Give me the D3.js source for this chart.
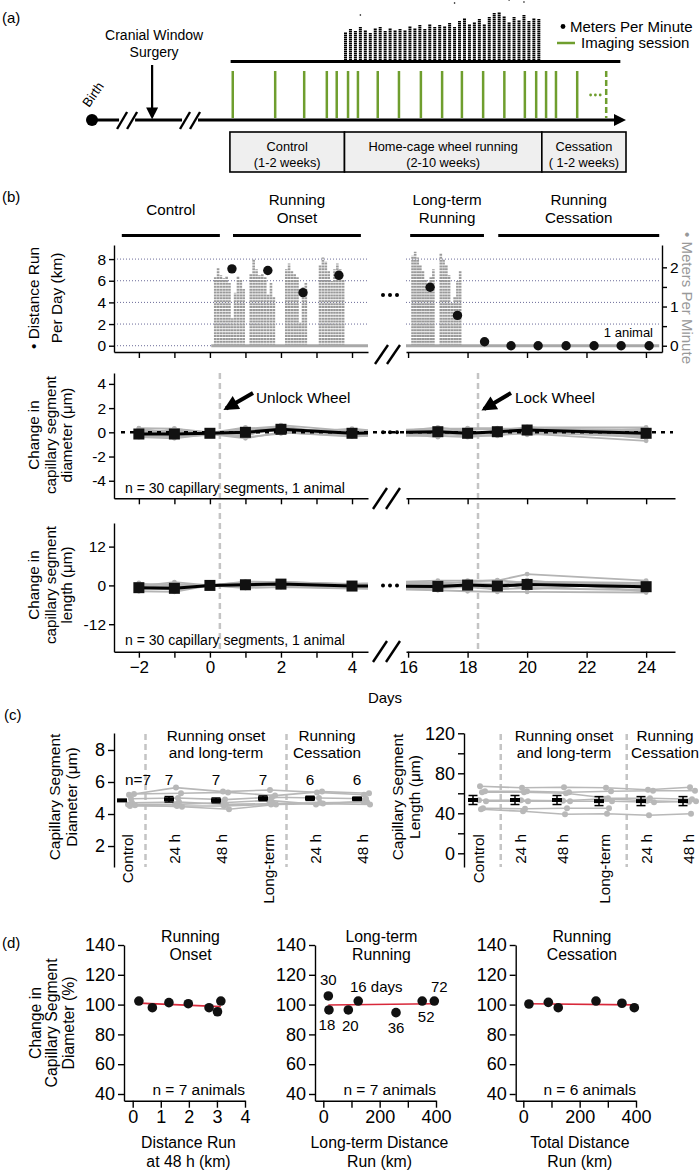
<!DOCTYPE html>
<html>
<head>
<meta charset="utf-8">
<script src="https://cdn.jsdelivr.net/npm/d3@7"></script>
<style>
  body { margin: 0; background: #fff; }
  svg { font-family: "Liberation Sans", Arial, Helvetica, sans-serif; }
</style>
</head>
<body>
<div id="app"></div>
<script>
// ---------- (a) timeline data ----------
const sessionDays = [0.4, 6.4, 10.5, 13.7, 15.1, 16.7, 18.1, 20.9, 23.9, 27, 30, 32.8, 35.8, 38.8, 41.7, 43.3, 44.7, 46.1, 49.1];
const nextSessionDay = 53.2;
const phaseNames = ['Control', 'Home-cage wheel running', 'Cessation'];
const phaseSpans = ['(1-2 weeks)', '(2-10 weeks)', '( 1-2 weeks)'];
const phaseStarts = [0, 16.2, 44.1, 56];
const birthDay = -19.5, surgeryDay = -11, breakDays = [-14.4, -5.5];
// nightly peak meters per minute during wheel access (schematic strip)
const wheelPeaks = [28, 31, 29, 33, 30, 27, 32, 33, 29, 32, 30, 31, 30, 34, 32, 35, 31, 36, 33, 35,
  34, 37, 33, 39, 42, 36, 38, 41, 36, 43, 47, 48, 44, 38, 43, 40, 45, 39, 42, 41];
const wheelStrayIdx = [3, 22, 33, 36];
const wheelStrayVal = [45, 57, 60, 58];

// ---------- (b) data ----------
const periodLabels = ['Control', 'Running\nOnset', 'Long-term\nRunning', 'Running\nCessation'];
const periodStart = [-2.48, 0.65, 16.07, 19.03];
const periodEnd = [0.28, 4.25, 18.55, 24.44];

const nightStart = [0.15, 1.15, 2.15, 3.1, 16.15, 17.1];
const nightEnd = [0.95, 1.8, 2.7, 3.75, 16.85, 17.75];
const nightPeaks = [
  [1.75, 1.98, 1.8, 1.72, 1.78, 1.6, 0.7, 1.35, 1.78, 1.7, 1.45],
  [1.85, 2.2, 1.95, 1.8, 1.85, 1.75, 1.3, 1.6, 1.25],
  [1.95, 2.1, 1.9, 1.85, 1.75, 0.6, 1.5, 1.6],
  [2.05, 2.25, 2.15, 1.9, 1.65, 1.95, 2.1, 1.95, 1.7],
  [2.3, 2.4, 2.25, 2.05, 1.9, 1.7, 1.45, 1.75, 1.95],
  [2.35, 2.2, 2.05, 1.8, 1.1, 1.25, 1.65, 1.9]
];
const distDays = [0.62, 1.63, 2.62, 3.63, 16.74, 17.66, 18.57, 19.46, 20.37, 21.31, 22.25, 23.16, 24.1];
const distKm = [7.1, 6.95, 4.9, 6.5, 5.4, 2.8, 0.37, 0, 0, 0, 0, 0, 0];

const unlockDay = 0.28, lockDay = 18.35;
const timeDays = [-2, -1, 0, 1, 2, 4, 17, 18, 19, 20, 24];
const diamTraces = [
  [0.35, 0.3, 0, -0.3, 0.6, 0.1, 0.3, 0.3, 0.2, 0.4, 0.4],
  [-0.4, -0.5, -0.15, -0.5, 0.0, -0.3, -0.3, -0.4, -0.2, -0.1, -0.7],
  [0.2, 0.1, -0.05, 0.2, 0.4, -0.2, 0.1, 0.2, 0.3, 0.3, 0.2],
  [-0.3, -0.4, -0.2, 0.1, 0.1, 0.0, -0.2, -0.1, 0.1, 0.0, -0.4],
  [0.0, 0.2, 0, -0.2, 0.3, -0.1, 0.2, 0.0, -0.1, 0.3, 0.1],
  [-0.2, -0.2, -0.1, 0.0, 0.2, 0.2, -0.1, -0.3, 0.0, 0.1, -0.2],
  [0.3, -0.1, -0.1, 0.3, 0.5, -0.3, 0.4, 0.1, -0.2, 0.45, -0.5],
  [-0.35, 0.3, -0.1, -0.4, -0.1, 0.3, -0.4, 0.35, 0.35, -0.2, 0.3],
  [0.1, -0.3, -0.05, 0.4, 0.0, -0.35, 0.0, -0.25, -0.3, 0.2, -0.3]
];
const diamMean = [-0.14, -0.14, -0.08, 0, 0.25, -0.08, 0.05, -0.08, 0.05, 0.19, -0.08];
const lenTraces = [
  [-0.2, 1.0, 0, 1.2, 1.0, 0.5, 1.5, 1.5, 1.5, 3.5, 1.5],
  [-1.8, -2.0, 0, -0.8, -0.5, -1.0, -1.5, -1.8, -2.0, -2.0, -2.2],
  [0.5, 0.2, 0, 0.5, 1.2, 0.2, 1.0, 0.8, 0.5, 1.2, 0.8],
  [-1.0, -1.2, 0, -0.3, 0.2, -0.6, -0.8, -0.5, -1.2, -0.8, -1.5],
  [0.2, -0.5, 0, 0.8, 0.6, 0.0, 0.3, 1.2, 1.6, 0.8, 0.3],
  [-0.5, -0.8, 0, 0.2, 0.5, -0.3, -0.2, 0.3, -0.5, 0.5, -0.8],
  [-1.4, 0.4, 0, -0.6, 0.9, 0.4, 0.8, -0.9, 0.9, -1.2, 1.0],
  [0.8, -1.5, 0, 1.0, -0.3, -0.8, -1.0, 0.6, -1.6, 1.6, -1.9]
];
const lenMean = [-0.7, -0.9, 0, 0.2, 0.4, -0.2, -0.3, 0.1, -0.2, 0.3, -0.4];

// ---------- (c) data ----------
const cCategories = ['Control', '24 h', '48 h', 'Long-term', '24 h', '48 h'];
const cCounts = ['n=7', '7', '7', '7', '6', '6'];
const diamByAnimal = [
  [5.2, 5.65, 5.4, 5.5, 5.35, 5.2],
  [5.25, 5.3, 5.35, 5.15, 5.4, 5.3],
  [4.95, 5.0, 4.9, 5.05, 5.0, 4.95],
  [4.6, 4.6, 4.7, 4.85, 4.6, 4.8],
  [4.55, 4.45, 4.3, 4.6, 4.65, 4.6],
  [4.7, 4.75, 4.6, 4.65, 4.7, 4.75],
  [4.5, 4.5, 4.5, 4.6, null, null]
];
const diamMeanC = [4.85, 4.92, 4.85, 4.98, 4.98, 4.95];
const diamSemC = [0.05, 0.17, 0.15, 0.15, 0.13, 0.1];
const lenByAnimal = [
  [67, 65.5, 66, 65.5, 63.5, 66],
  [62, 62, 61, 62, 62.5, 62.5],
  [61, 61, 60, 55, 55, 54],
  [53, 53, 52.5, 54.5, 52.5, 51.5],
  [52, 52, 52, 52, 51, 52],
  [45, 44.5, 45, 45, null, null],
  [44, 42, 39, 39.5, 38, 39.5]
];
const lenMeanC = [53.3, 53.3, 53.3, 52.2, 52.2, 52.2];
const lenSemC = [4.5, 4.5, 4.5, 4.5, 4.5, 4.5];

// ---------- (d) data ----------
const onsetKm = [0.22, 0.7, 1.29, 1.98, 2.72, 3.02, 3.14];
const onsetPct = [102.4, 97.9, 101.3, 100.6, 97.9, 95.2, 102.4];
const longKm = [17.8, 20, 88.8, 124, 258, 351, 394];
const longPct = [105.8, 96.4, 96.4, 102.4, 94.6, 102.4, 102.4];
const longDays = ['30', '18', '20', '16 days', '36', '52', '72'];
const cessKm = [20, 88.8, 124, 258, 350, 394];
const cessPct = [100.4, 101.5, 97.9, 102.4, 100.9, 97.9];

// ======================================================
const W = 700, H = 1170;
const svg = d3.select('#app').append('svg').attr('width', W).attr('height', H);
const defs = svg.append('defs');

function arrowMarker(id, w, h) {
  defs.append('marker').attr('id', id)
    .attr('viewBox', '0 0 10 10').attr('refX', 8).attr('refY', 5)
    .attr('markerUnits', 'userSpaceOnUse')
    .attr('markerWidth', w).attr('markerHeight', h)
    .attr('orient', 'auto')
    .append('path').attr('d', 'M0,0L10,5L0,10z').attr('fill', '#000');
}
arrowMarker('headS', 12, 12);
arrowMarker('headL', 16, 15);

function lines(g, x, y, str, size, anchor, lh) {
  const t = g.append('text').attr('x', x).attr('y', y)
    .attr('font-size', size).attr('text-anchor', anchor || 'middle');
  str.split('\n').forEach((s, i) => t.append('tspan').attr('x', x).attr('dy', i ? (lh || 1.15) + 'em' : 0).text(s));
  return t;
}
function rotLabel(g, cx, cy, str, size, lh, angle) {
  const t = g.append('text').attr('transform', `translate(${cx},${cy}) rotate(${angle || -90})`)
    .attr('font-size', size).attr('text-anchor', 'middle');
  str.split('\n').forEach((s, i) => t.append('tspan').attr('x', 0).attr('dy', i ? lh + 'em' : '0.35em').text(s));
  return t;
}
function styleAxis(g, fs) {
  g.attr('font-family', null).attr('font-size', fs);
  g.selectAll('path, line').attr('stroke', '#000').attr('stroke-width', 1.4);
  g.selectAll('text').attr('fill', '#000');
  return g;
}
function slashes(g, x0, yb, yt, w, gap) {
  [0, gap].forEach(o => g.append('line')
    .attr('x1', x0 + o).attr('y1', yb).attr('x2', x0 + o + w).attr('y2', yt)
    .attr('stroke', '#000').attr('stroke-width', 2.4));
}
function ellipsis(g, cx, cy) {
  [-7, 0, 7].forEach(o => g.append('circle').attr('cx', cx + o).attr('cy', cy).attr('r', 2).attr('fill', '#000'));
}

// ======================= (a) ===========================
const ga = svg.append('g');
ga.append('text').attr('x', 2).attr('y', 23).attr('font-size', 15).text('(a)');
const tl = d3.scaleLinear().domain([-19.5, 56]).range([92, 626]);

// running strip (meters per minute)
const yWheel = d3.scaleLinear().domain([0, 60]).range([60, 0]);
const wheelX = d3.scaleLinear().domain([0, wheelPeaks.length - 1]).range([tl(phaseStarts[1]) + 1, tl(phaseStarts[2]) - 3]);
ga.append('g').selectAll('line').data(wheelPeaks).enter().append('line')
  .attr('x1', (d, i) => wheelX(i)).attr('x2', (d, i) => wheelX(i))
  .attr('y1', yWheel(0)).attr('y2', d => yWheel(d))
  .attr('stroke', '#000').attr('stroke-width', 3).attr('stroke-dasharray', '1.4,0.6');
ga.append('g').selectAll('circle').data(wheelStrayVal).enter().append('circle')
  .attr('cx', (d, i) => wheelX(wheelStrayIdx[i])).attr('cy', d => yWheel(d)).attr('r', 0.8).attr('fill', '#000');

// top bar above sessions
ga.append('line').attr('x1', tl(0.1)).attr('x2', tl(55.2)).attr('y1', 61.5).attr('y2', 61.5)
  .attr('stroke', '#000').attr('stroke-width', 3);

// imaging sessions
ga.append('g').selectAll('line').data(sessionDays).enter().append('line')
  .attr('x1', d => tl(d)).attr('x2', d => tl(d)).attr('y1', 71).attr('y2', 118)
  .attr('stroke', '#6f9e2e').attr('stroke-width', 2.5);
ga.append('line').attr('x1', tl(nextSessionDay)).attr('x2', tl(nextSessionDay)).attr('y1', 71).attr('y2', 118)
  .attr('stroke', '#6f9e2e').attr('stroke-width', 2.5).attr('stroke-dasharray', '6,3');
[-2.4, -1.2, 0].forEach(o => ga.append('circle').attr('cx', tl(nextSessionDay) + o * 4 - 6).attr('cy', 95).attr('r', 1.4).attr('fill', '#6f9e2e'));

// timeline
ga.append('line').attr('x1', tl(birthDay)).attr('x2', tl(56) - 8).attr('y1', 120).attr('y2', 120)
  .attr('stroke', '#000').attr('stroke-width', 3);
ga.append('path').attr('d', `M${tl(56)},120 L${tl(56) - 12},114 L${tl(56) - 12},126 Z`).attr('fill', '#000');
ga.append('circle').attr('cx', tl(birthDay)).attr('cy', 120).attr('r', 6).attr('fill', '#000');
ga.append('text').attr('transform', `translate(${tl(birthDay) - 3},${108}) rotate(-55)`)
  .attr('font-size', 13).text('Birth');
breakDays.forEach(d => {
  ga.append('rect').attr('x', tl(d) - 9).attr('y', 116).attr('width', 16).attr('height', 8).attr('fill', '#fff');
  slashes(ga, tl(d) - 11, 129, 112, 10, 10);
});
ga.append('line').attr('x1', tl(surgeryDay)).attr('x2', tl(surgeryDay)).attr('y1', 65).attr('y2', 117)
  .attr('stroke', '#000').attr('stroke-width', 2.2).attr('marker-end', 'url(#headS)');
lines(ga, tl(surgeryDay) + 2, 40, 'Cranial Window\nSurgery', 14, 'middle', 1.2);

// phase boxes
phaseNames.forEach((p, i) => {
  const x0 = tl(phaseStarts[i]), x1 = tl(phaseStarts[i + 1]);
  ga.append('rect').attr('x', x0).attr('y', 132).attr('width', x1 - x0).attr('height', 40)
    .attr('fill', '#efefef').attr('stroke', '#000').attr('stroke-width', 1.6);
  lines(ga, (x0 + x1) / 2, 150.5, p + '\n' + phaseSpans[i], 12.8, 'middle', 1.25);
});

// legend
ga.append('circle').attr('cx', 563).attr('cy', 26.5).attr('r', 2.4).attr('fill', '#000');
ga.append('text').attr('x', 570).attr('y', 31.5).attr('font-size', 15).text('Meters Per Minute');
ga.append('line').attr('x1', 557).attr('x2', 575).attr('y1', 43).attr('y2', 43).attr('stroke', '#6f9e2e').attr('stroke-width', 2.5);
ga.append('text').attr('x', 581).attr('y', 48).attr('font-size', 15).text('Imaging session');

// ======================= (b) ===========================
const gb = svg.append('g');
gb.append('text').attr('x', 2).attr('y', 202).attr('font-size', 15).text('(b)');
const xB = d3.scaleLinear().domain([-2.7, 4.45, 15.93, 24.97]).range([114, 368, 406, 675]);
const xL = d3.scaleLinear().domain([-2.7, 4.45]).range([114, 368]);
const xR = d3.scaleLinear().domain([15.93, 24.97]).range([406, 675]);
const xRtop = d3.scaleLinear().domain([15.93, 24.54]).range([406, 662]);

defs.append('clipPath').attr('id', 'clipL').append('rect').attr('x', 100).attr('y', 0).attr('width', 268).attr('height', H);
defs.append('clipPath').attr('id', 'clipR').append('rect').attr('x', 406).attr('y', 0).attr('width', 280).attr('height', H);

// period bars
periodLabels.forEach((p, i) => {
  gb.append('line').attr('x1', xB(periodStart[i])).attr('x2', xB(periodEnd[i])).attr('y1', 235.5).attr('y2', 235.5)
    .attr('stroke', '#000').attr('stroke-width', 3);
  const cx = (xB(periodStart[i]) + xB(periodEnd[i])) / 2;
  if (p.indexOf('\n') < 0) lines(gb, cx, 215, p, 15.2);
  else lines(gb, cx, 205, p, 15.2, 'middle', 1.18);
});

// top panel scales
const yKm = d3.scaleLinear().domain([-0.58, 9.3]).range([352, 245]);
const yMpm = d3.scaleLinear().domain([-0.16, 2.57]).range([352, 245]);

// dotted gridlines
[0, 2, 4, 6, 8].forEach(v => {
  [[117, 368], [406, 659]].forEach(r => gb.append('line')
    .attr('x1', r[0]).attr('x2', r[1]).attr('y1', yKm(v)).attr('y2', yKm(v))
    .attr('stroke', '#6b6b99').attr('stroke-width', 1).attr('stroke-dasharray', '1,2'));
});

// nightly running (meters per minute)
const gNight = gb.append('g');
nightPeaks.forEach((pk, n) => {
  const xs = d3.scaleLinear().domain([0, pk.length - 1]).range([xB(nightStart[n]), xB(nightEnd[n])]);
  gNight.selectAll(null).data(pk).enter().append('line')
    .attr('x1', (d, i) => xs(i)).attr('x2', (d, i) => xs(i))
    .attr('y1', yMpm(0)).attr('y2', d => yMpm(d))
    .attr('stroke', '#9a9a9a').attr('stroke-width', 2.6).attr('stroke-dasharray', '2,0.9');
});
gb.append('line').attr('x1', xB(nightStart[0]) - 4).attr('x2', xB(4.45)).attr('y1', yMpm(0)).attr('y2', yMpm(0))
  .attr('stroke', '#a8a8a8').attr('stroke-width', 3);
gb.append('line').attr('x1', xB(15.93)).attr('x2', xB(24.44)).attr('y1', yMpm(0)).attr('y2', yMpm(0))
  .attr('stroke', '#a8a8a8').attr('stroke-width', 3);

// distance per day
gb.append('g').selectAll('circle').data(distKm).enter().append('circle')
  .attr('cx', (d, i) => xB(distDays[i])).attr('cy', d => yKm(d)).attr('r', 4.7).attr('fill', '#111');

// axes top
styleAxis(gb.append('g').attr('transform', 'translate(114,0)')
  .call(d3.axisLeft(yKm).tickValues([0, 2, 4, 6, 8]).tickSize(5).tickSizeOuter(0)), 15.5);
styleAxis(gb.append('g').attr('transform', 'translate(662,0)')
  .call(d3.axisRight(yMpm).tickValues([0, 0.5, 1, 1.5, 2]).tickFormat(d => d % 1 === 0 ? d : '').tickSize(5).tickSizeOuter(0)), 15.5);
styleAxis(gb.append('g').attr('transform', 'translate(0,352)')
  .call(d3.axisBottom(xL).tickValues(d3.range(-2, 5)).tickFormat('').tickSize(6).tickSizeOuter(0)), 15);
styleAxis(gb.append('g').attr('transform', 'translate(0,352)')
  .call(d3.axisBottom(xRtop).tickValues(d3.range(16, 25, 2)).tickFormat('').tickSize(6).tickSizeOuter(0)), 15);
slashes(gb, 375, 364, 345, 13, 12);
ellipsis(gb, 390, 295);
gb.append('text').attr('x', 653).attr('y', 336.5).attr('font-size', 13).attr('text-anchor', 'end').text('1 animal');
rotLabel(gb, 34, 298, '\u2022 Distance Run\nPer Day (km)', 15.4, 1.45);
rotLabel(gb, 687, 298, '\u2022 Meters Per Minute', 15, 1.2, 90).attr('fill', '#999');

// unlock/lock dashed lines
[unlockDay, lockDay].forEach(d => gb.append('line')
  .attr('x1', xB(d)).attr('x2', xB(d)).attr('y1', 373).attr('y2', 651)
  .attr('stroke', '#c4c4c4').attr('stroke-width', 2.5).attr('stroke-dasharray', '6,4'));

function tracePanel(g, yS, traces, mean) {
  const line = d3.line().x((d, i) => xB(timeDays[i])).y(d => yS(d));
  ['clipL', 'clipR'].forEach(c => {
    const gc = g.append('g').attr('clip-path', `url(#${c})`);
    traces.forEach(t => gc.append('path').attr('d', line(t)).attr('fill', 'none')
      .attr('stroke', '#b4b4b4').attr('stroke-width', 1.8));
    traces.forEach(t => gc.selectAll(null).data(t).enter().append('circle')
      .attr('cx', (d, i) => xB(timeDays[i])).attr('cy', d => yS(d)).attr('r', 2.4).attr('fill', '#b4b4b4'));
    gc.append('path').attr('d', line(mean)).attr('fill', 'none').attr('stroke', '#000').attr('stroke-width', 3);
  });
  g.selectAll(null).data(mean).enter().append('rect')
    .attr('x', (d, i) => xB(timeDays[i]) - 5.5).attr('y', d => yS(d) - 5.5)
    .attr('width', 11).attr('height', 11).attr('fill', '#111');
}

// middle: diameter
const yDiam = d3.scaleLinear().domain([-5.45, 4.9]).range([498.3, 373]);
const gm = gb.append('g');
tracePanel(gm, yDiam, diamTraces, diamMean);
gm.append('line').attr('x1', 121).attr('x2', 673).attr('y1', yDiam(0)).attr('y2', yDiam(0))
  .attr('stroke', '#000').attr('stroke-width', 2.5).attr('stroke-dasharray', '4,5');
gm.selectAll('rect').raise();
styleAxis(gm.append('g').attr('transform', 'translate(114,0)')
  .call(d3.axisLeft(yDiam).tickValues([-4, -2, 0, 2, 4]).tickFormat(d => String(d)).tickSize(5).tickSizeOuter(0)), 15.5);
styleAxis(gm.append('g').attr('transform', 'translate(0,498.3)')
  .call(d3.axisBottom(xL).tickValues(d3.range(-2, 5)).tickFormat('').tickSize(6).tickSizeOuter(0)), 15);
styleAxis(gm.append('g').attr('transform', 'translate(0,498.3)')
  .call(d3.axisBottom(xR).tickValues(d3.range(16, 25, 2)).tickFormat('').tickSize(6).tickSizeOuter(0)), 15);
slashes(gm, 373, 509, 488, 14, 13);
ellipsis(gm, 390, yDiam(0));
gm.append('text').attr('x', 125).attr('y', 493).attr('font-size', 14).text('n = 30 capillary segments, 1 animal');
rotLabel(gm, 34, 435, 'Change in\ncapillary segment\ndiameter (\u03bcm)', 15.2, 1.08);
gm.append('line').attr('x1', 253).attr('y1', 393).attr('x2', 226).attr('y2', 408.5)
  .attr('stroke', '#000').attr('stroke-width', 4).attr('marker-end', 'url(#headL)');
gm.append('text').attr('x', 256).attr('y', 403).attr('font-size', 15.3).text('Unlock Wheel');
gm.append('line').attr('x1', 511).attr('y1', 393).attr('x2', 484).attr('y2', 409)
  .attr('stroke', '#000').attr('stroke-width', 4).attr('marker-end', 'url(#headL)');
gm.append('text').attr('x', 515).attr('y', 403).attr('font-size', 15.3).text('Lock Wheel');

// bottom: length
const yLen = d3.scaleLinear().domain([-20.5, 19.3]).range([651.7, 523]);
const gl = gb.append('g');
tracePanel(gl, yLen, lenTraces, lenMean);
styleAxis(gl.append('g').attr('transform', 'translate(114,0)')
  .call(d3.axisLeft(yLen).tickValues([-12, 0, 12]).tickFormat(d => String(d)).tickSize(5).tickSizeOuter(0)), 15.5);
styleAxis(gl.append('g').attr('transform', 'translate(0,651.7)')
  .call(d3.axisBottom(xL).tickValues(d3.range(-2, 5)).tickFormat(d => d % 2 === 0 ? d3.format('')(d) : '').tickSize(6).tickSizeOuter(0)), 17);
styleAxis(gl.append('g').attr('transform', 'translate(0,651.7)')
  .call(d3.axisBottom(xR).tickValues(d3.range(16, 25, 2)).tickSize(6).tickSizeOuter(0)), 17);
slashes(gl, 373, 662, 641, 14, 13);
ellipsis(gl, 390, yLen(0));
gl.append('text').attr('x', 125).attr('y', 645).attr('font-size', 14).text('n = 30 capillary segments, 1 animal');
rotLabel(gl, 34, 585, 'Change in\ncapillary segment\nlength (\u03bcm)', 15.2, 1.08);
gl.append('text').attr('x', 385).attr('y', 703).attr('font-size', 15).attr('text-anchor', 'middle').text('Days');

// ======================= (c) ===========================
const gc = svg.append('g');
gc.append('text').attr('x', 4).attr('y', 720).attr('font-size', 15).text('(c)');

function catPanel(xS, yS, byAnimal, mean, sem, sepFrac, opts) {
  const g = gc.append('g');
  const step = xS.step();
  [0, 3].forEach(i => g.append('line')
    .attr('x1', xS(i) + step * sepFrac).attr('x2', xS(i) + step * sepFrac).attr('y1', 734).attr('y2', 867)
    .attr('stroke', '#c4c4c4').attr('stroke-width', 2.5).attr('stroke-dasharray', '6,4'));
  const shift = [7, 12, 9, 6, 13, 10, 8];
  byAnimal.forEach((a, k) => {
    const ln = d3.line().defined(d => d != null).x((d, i) => xS(i) + shift[k]).y(d => yS(d));
    g.append('path').attr('d', ln(a)).attr('fill', 'none').attr('stroke', '#b8b8b8').attr('stroke-width', 1.6);
    g.selectAll(null).data(a.filter(d => d != null)).enter().append('circle')
      .attr('cx', (d, i) => xS(i) + shift[k]).attr('cy', d => yS(d)).attr('r', 3).attr('fill', '#b8b8b8');
  });
  mean.forEach((m, i) => {
    const x = xS(i);
    g.append('line').attr('x1', x).attr('x2', x).attr('y1', yS(m - sem[i])).attr('y2', yS(m + sem[i])).attr('stroke', '#000').attr('stroke-width', 1.5);
    [m - sem[i], m + sem[i]].forEach(v => g.append('line').attr('x1', x - 4.5).attr('x2', x + 4.5).attr('y1', yS(v)).attr('y2', yS(v)).attr('stroke', '#000').attr('stroke-width', 1.5));
    g.append('rect').attr('x', x - 5).attr('y', yS(m) - 2).attr('width', 10).attr('height', 4).attr('fill', '#000');
  });
  cCategories.forEach((c, i) => g.append('text')
    .attr('transform', `translate(${xS(i) + 6},834) rotate(-90)`)
    .attr('text-anchor', 'end').attr('dy', '0.35em').attr('font-size', 15.3).text(c));
  lines(g, xS(2) + opts.t1dx, 740.5, 'Running onset\nand long-term', 15.3, 'middle', 1.15);
  lines(g, opts.t2x, 740.5, 'Running\nCessation', 15.3, 'middle', 1.15);
  return g;
}

const xC1 = d3.scalePoint().domain(d3.range(6)).range([122, 357]);
const yC1 = d3.scaleLinear().domain([0.69, 9.06]).range([867, 733]);
const gc1 = catPanel(xC1, yC1, diamByAnimal, diamMeanC, diamSemC, 0.5, { t1dx: 0, t2x: 327 });
styleAxis(gc1.append('g').attr('transform', 'translate(114,0)')
  .call(d3.axisLeft(yC1).tickValues([2, 4, 6, 8]).tickSize(6).tickSizeOuter(0)), 18);
cCounts.forEach((n, i) => gc1.append('text').attr('x', i === 0 ? xC1(i) + 3 : xC1(i)).attr('y', 785)
  .attr('text-anchor', i === 0 ? 'start' : 'middle').attr('font-size', 15.3).text(n));
rotLabel(gc1, 55, 797, 'Capillary Segment\nDiameter (\u03bcm)', 15.5, 1.1);

const xC2 = d3.scalePoint().domain(d3.range(6)).range([473, 683]);
const yC2 = d3.scaleLinear().domain([-13.7, 120.3]).range([867, 733]);
const gc2 = catPanel(xC2, yC2, lenByAnimal, lenMeanC, lenSemC, 0.66, { t1dx: 7, t2x: 665 });
styleAxis(gc2.append('g').attr('transform', 'translate(464,0)')
  .call(d3.axisLeft(yC2).tickValues(d3.range(0, 121, 20)).tickFormat(d => d % 40 === 0 ? d : '').tickSize(6).tickSizeOuter(0)), 18);
rotLabel(gc2, 398, 797, 'Capillary Segment\nLength (\u03bcm)', 15.5, 1.1);

// ======================= (d) ===========================
const gd = svg.append('g');
gd.append('text').attr('x', 2).attr('y', 948).attr('font-size', 15).text('(d)');
const yD = d3.scaleLinear().domain([35.5, 140]).range([1100.7, 945]);

function regress(xs, ys) {
  const mx = d3.mean(xs), my = d3.mean(ys);
  const b = d3.sum(xs, (x, i) => (x - mx) * (ys[i] - my)) / d3.sum(xs, x => (x - mx) * (x - mx));
  return x => my + b * (x - mx);
}

function scatterPanel(x0, xS, xTicks, xs, ys, title, xlab, nText) {
  const g = gd.append('g');
  styleAxis(g.append('g').attr('transform', `translate(${x0},0)`)
    .call(d3.axisLeft(yD).tickValues(d3.range(40, 141, 20)).tickSize(6).tickSizeOuter(0)), 18);
  styleAxis(g.append('g').attr('transform', 'translate(0,1100.7)')
    .call(d3.axisBottom(xS).tickValues(xTicks.vals).tickFormat(xTicks.fmt).tickSize(7).tickSizeOuter(0)), 18);
  const f = regress(xs, ys);
  const ext = d3.extent(xs);
  g.append('line').attr('x1', xS(ext[0])).attr('x2', xS(ext[1])).attr('y1', yD(f(ext[0]))).attr('y2', yD(f(ext[1])))
    .attr('stroke', '#d8283a').attr('stroke-width', 1.6);
  g.selectAll(null).data(ys).enter().append('circle')
    .attr('cx', (d, i) => xS(xs[i])).attr('cy', d => yD(d)).attr('r', 4.8).attr('fill', '#111');
  const xr = xS.range();
  lines(g, (xr[0] + xr[1]) / 2 + 6, 942, title, 15.8, 'middle', 1.13);
  lines(g, (xr[0] + xr[1]) / 2 + 4, 1148, xlab, 15.8, 'middle', 1.2);
  g.append('text').attr('x', xr[1]).attr('y', 1095).attr('text-anchor', 'end').attr('font-size', 15.5).text(nText);
  return g;
}

const xD1 = d3.scaleLinear().domain([-0.31, 4]).range([124, 245]);
const gd1 = scatterPanel(124, xD1, { vals: [0, 1, 2, 3, 4], fmt: d3.format('') }, onsetKm, onsetPct,
  'Running\nOnset', 'Distance Run\nat 48 h (km)', 'n = 7 animals');
rotLabel(gd1, 35, 1023, 'Change in\nCapillary Segment\nDiameter (%)', 15.8, 1.06);

const kmTicks = { vals: [0, 100, 200, 300, 400], fmt: d => d % 200 === 0 ? d : '' };
const xD2 = d3.scaleLinear().domain([-29.5, 400]).range([315, 436]);
const gd2 = scatterPanel(315, xD2, kmTicks, longKm, longPct, 'Long-term\nRunning', 'Long-term Distance\nRun (km)', 'n = 7 animals');
const labOff = [[0, -16], [-2, 15], [2, 16], [18, -14], [0, 15], [4, 16], [5, -14]];
gd2.selectAll('text.daylab').data(longDays).enter().append('text').attr('class', 'daylab')
  .attr('x', (d, i) => xD2(longKm[i]) + labOff[i][0]).attr('y', (d, i) => yD(longPct[i]) + labOff[i][1])
  .attr('dy', '0.35em').attr('text-anchor', 'middle').attr('font-size', 15).text(d => d);

const xD3 = d3.scaleLinear().domain([-27, 400]).range([515.7, 636]);
scatterPanel(515.7, xD3, kmTicks, cessKm, cessPct, 'Running\nCessation', 'Total Distance\nRun (km)', 'n = 6 animals');
</script>
</body>
</html>
